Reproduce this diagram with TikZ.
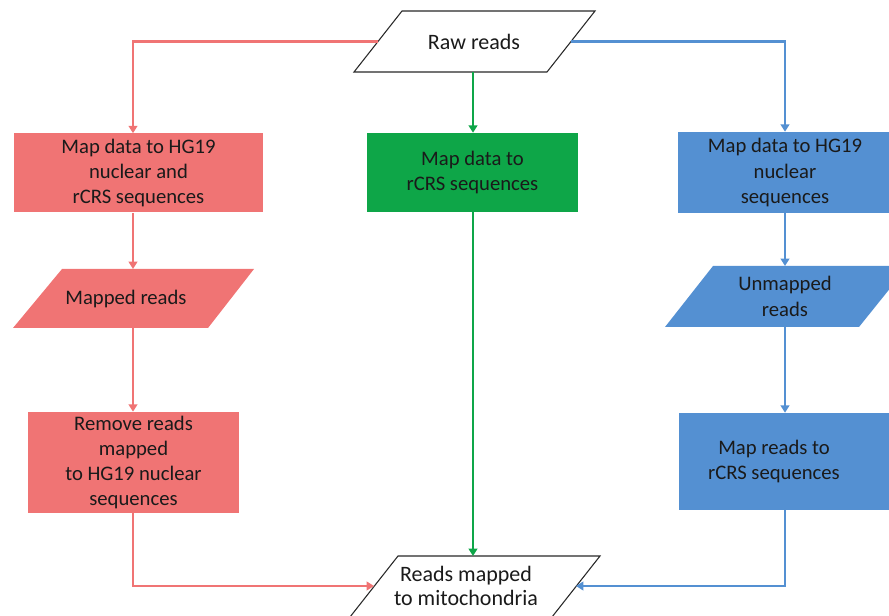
\documentclass[tikz,border=0pt]{standalone}
\usepackage{fontspec}
\setmainfont{Carlito}
\usetikzlibrary{arrows.meta}
\definecolor{redF}{RGB}{240,116,116}
\definecolor{greenF}{RGB}{14,166,72}
\definecolor{blueF}{RGB}{84,144,210}
\definecolor{txtC}{RGB}{26,26,26}
\definecolor{edgeC}{RGB}{40,40,40}
\begin{document}
\begin{tikzpicture}[x=0.75pt,y=-0.75pt,
  font=\fontsize{15.5}{18.9}\selectfont,
  bigfont/.style={font=\fontsize{16.5}{18.3}\selectfont},
  boxnode/.style={rectangle, inner sep=0pt, align=center, text=txtC},
  lbl/.style={inner sep=0pt, align=center, text=txtC},
  conn/.style={line width=2.1pt, -{Triangle[length=5.5pt,width=6.5pt]}},
  redc/.style={conn, draw=redF},
  greenc/.style={conn, draw=greenF},
  bluec/.style={conn, draw=blueF}]
\useasboundingbox (0,0) rectangle (889,616);
\clip (0,0) rectangle (889,616);
% column coordinates
\coordinate (colR) at (133,0);
\coordinate (colG) at (473,0);
\coordinate (colB) at (785,0);
% Raw reads
\draw[edgeC, line width=0.8pt, fill=white] (402,11) -- (595,11) -- (547,72) -- (354,72) -- cycle;
\node[lbl, bigfont] (raw) at (474,41.5) {Raw reads};
\coordinate (rawW) at (378,41.5);
\coordinate (rawE) at (571,41.5);
\coordinate (rawS) at (473,72);
% Row 1 boxes
\node[boxnode, fill=redF, minimum width=249*0.75pt, minimum height=79*0.75pt] (mapR) at (138.5,173) {Map data to HG19\\nuclear and\\rCRS sequences};
\node[boxnode, fill=greenF, minimum width=211*0.75pt, minimum height=79*0.75pt] (mapG) at (472.5,172.5) {Map data to\\rCRS sequences};
\node[boxnode, fill=blueF, minimum width=220*0.75pt, minimum height=81*0.75pt] (mapB) at (788,172.5) {};
\node[lbl] (mapBt) at (785,172.5) {Map data to HG19\\nuclear\\sequences};
% Mapped reads (red parallelogram)
\fill[redF] (62,269) -- (254,269) -- (208,328) -- (13,328) -- cycle;
\node[lbl] (mapped) at (126,298.5) {Mapped reads};
\coordinate (mappedN) at (133,269);
\coordinate (mappedS) at (133,328);
% Unmapped reads (blue parallelogram)
\fill[blueF] (713,266) -- (908,266) -- (859,327) -- (665,327) -- cycle;
\node[lbl] (unm) at (785,296.5) {Unmapped\\reads};
\coordinate (unmN) at (785,266);
\coordinate (unmS) at (785,327);
% Row 3 boxes
\node[boxnode, fill=redF, minimum width=211*0.75pt, minimum height=101*0.75pt] (remove) at (133.5,462.5) {Remove reads\\mapped\\to HG19 nuclear\\sequences};
\node[boxnode, fill=blueF, minimum width=220*0.75pt, minimum height=97*0.75pt] (mapreads) at (789,461.5) {};
\node[lbl] (mapreadst) at (774,461.5) {Map reads to\\rCRS sequences};
% Final parallelogram
\draw[edgeC, line width=0.8pt, fill=white] (398,556) -- (600,556) -- (552,617) -- (350,617) -- cycle;
\node[lbl, bigfont] (fin) at (466,586) {Reads mapped\\to mitochondria};
\coordinate (finN) at (473,556);
\coordinate (finW) at (374,586);
\coordinate (finE) at (576,586);
% connectors
\draw[redc] (rawW) -| (mapR.north -| colR);
\draw[greenc] (rawS) -- (mapG.north -| colG);
\draw[bluec] (rawE) -| (mapB.north -| colB);
\draw[redc] (mapR.south -| colR) -- (mappedN);
\draw[redc] (mappedS) -- (remove.north -| colR);
\draw[redc] (remove.south -| colR) |- (finW);
\draw[greenc] (mapG.south -| colG) -- (finN);
\draw[bluec] (mapB.south -| colB) -- (unmN);
\draw[bluec] (unmS) -- (mapreads.north -| colB);
\draw[bluec] (mapreads.south -| colB) |- (finE);
\end{tikzpicture}
\end{document}
